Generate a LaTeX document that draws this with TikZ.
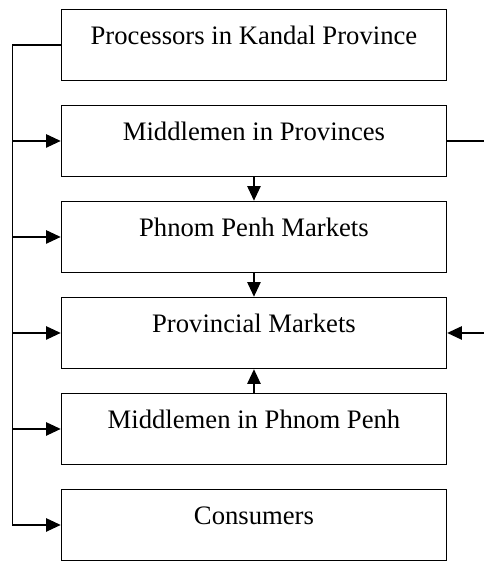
\documentclass[tikz,border=0pt]{standalone}
\usepackage{fontspec}
\setmainfont{Liberation Serif}
\usetikzlibrary{arrows.meta,matrix,positioning}
\tikzset{
  stage/.style={
      rectangle,
      draw=black,
      line width=1.1pt,
      minimum width=288.75pt,
      inner xsep=0pt,
      inner ysep=0pt,
      text height=26.25pt,
      text depth=27pt,
      font=\fontsize{20pt}{24pt}\selectfont
  }
}

\begin{document}
\begin{tikzpicture}[x=0.75pt,y=-0.75pt,line width=1.1pt,>={Triangle[length=11pt,width=10pt]}]
    \useasboundingbox (0,0) rectangle (483,561);
    \matrix[row sep={72pt,between origins},inner sep=0pt,anchor=north west] at (60,8)
    {
      \node[stage] (proc) {Processors in Kandal Province}; \\
      \node[stage] (midprov) {Middlemen in Provinces}; \\
      \node[stage] (ppmkt) {Phnom Penh Markets}; \\
      \node[stage] (provmkt) {Provincial Markets}; \\
      \node[stage] (midpp) {Middlemen in Phnom Penh}; \\
      \node[stage] (cons) {Consumers}; \\
    };
    \coordinate (rail) at ([xshift=-36pt]proc.west);
    \coordinate (rout) at ([xshift=29pt]midprov.east);
    \draw[->] (proc.west) -- (rail) |- (cons.west);
    \foreach \n in {midprov,ppmkt,provmkt,midpp}
      \draw[->] (rail |- \n.west) -- (\n.west);
    \draw[->] (midprov.south) -- (ppmkt.north);
    \draw[->] (ppmkt.south) -- (provmkt.north);
    \draw[->] (midpp.north) -- (provmkt.south);
    \draw (midprov.east) -- (rout);
    \draw[->] (rout |- provmkt.east) -- (provmkt.east);
  \end{tikzpicture}
\end{document}
